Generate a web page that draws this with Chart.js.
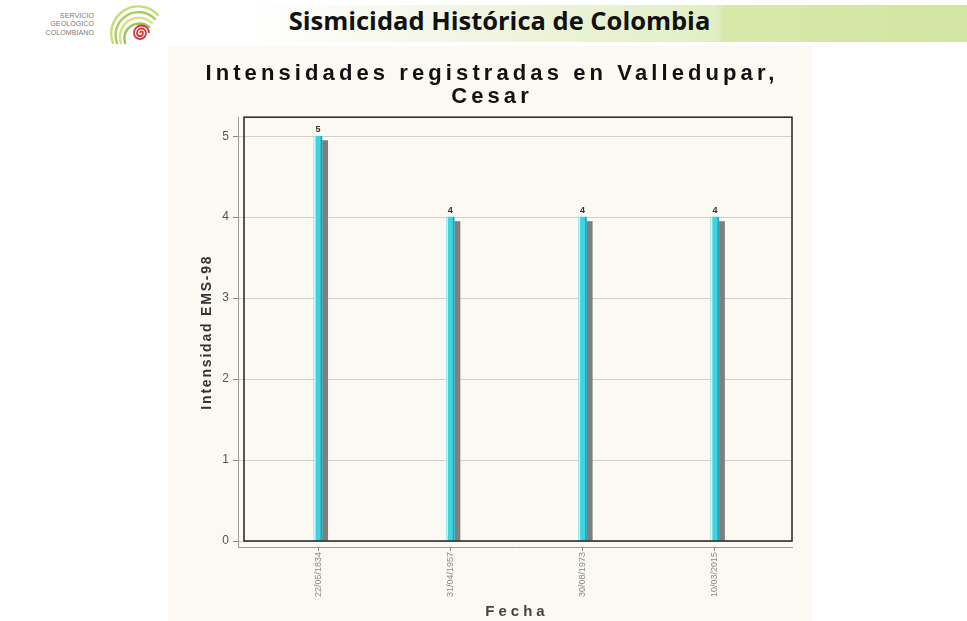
<!DOCTYPE html>
<html>
<head>
<meta charset="utf-8">
<title>Sismicidad Histórica de Colombia</title>
<script src="https://cdn.jsdelivr.net/npm/chart.js@4.4.1/dist/chart.umd.min.js"></script>
<style>
  html, body { margin: 0; padding: 0; background: #fff; }
  #page { position: relative; width: 967px; height: 621px; overflow: hidden; }
  #banda { position: absolute; left: 0; top: 5px; width: 967px; height: 37px;
    background: linear-gradient(to right, #fff 0px, #fff 250px, #eef4dc 520px, #e3eec4 715px, #d7e8a9 725px, #d3e5a2 967px); }
  #panel { position: absolute; left: 168px; top: 46px; width: 644px; height: 575px; background: #fbf9f2; }
  #cabecera { position: absolute; left: 0; top: 3px; width: 999px; text-align: center;
    font: bold 25.5px "Open Sans", Lato, sans-serif; color: #111; line-height: 34px; }
  #logo-txt { position: absolute; left: 18px; top: 12px; width: 76px; text-align: right;
    font: 7px "Liberation Sans", Arial, sans-serif; color: #7a7a7a; line-height: 8.4px; letter-spacing: 0.1px; }
  #logo { position: absolute; left: 96px; top: 3px; }
  canvas { position: absolute; left: 0; top: 0; }
</style>
</head>
<body>
<div id="page">
  <div id="banda"></div>
  <div id="panel"></div>
  <div id="cabecera">Sismicidad Histórica de Colombia</div>
  <div id="logo-txt">SERVICIO<br>GEOLÓGICO<br>COLOMBIANO</div>
  <svg id="logo" width="64" height="42" viewBox="0 0 64 42">
    <g fill="none" stroke-width="2.4" stroke-linecap="round">
      <path d="M 17 40 A 27 27 0 0 1 62 12" stroke="#c9dc72"/>
      <path d="M 21 40 A 23 23 0 0 1 59 16" stroke="#a8cc5e"/>
      <path d="M 25 40 A 19 19 0 0 1 56 20" stroke="#d8e27e"/>
      <path d="M 29 40 A 15 15 0 0 1 53 24" stroke="#9fc35a"/>
    </g>
    <path d="M 44 30 A 1.5 1.5 0 0 1 47 30 A 3 3 0 0 1 41 30 A 4.5 4.5 0 0 1 50 30 A 6 6 0 0 1 38 30 A 7.5 7.5 0 0 1 53 30"
      fill="none" stroke="#d63a3c" stroke-width="1.8"/>
  </svg>
  <canvas id="grafico" width="967" height="621"></canvas>
</div>

<script>
// ==== Datos ====
const fechas = ['22/05/1834', '31/04/1957', '30/08/1973', '10/03/2015'];
const intensidades = [5, 4, 4, 4];
const marcasY = [0, 1, 2, 3, 4, 5];

const fuente = '"Liberation Sans", Arial, sans-serif';

// espaciado de letras en los titulos (canvas letterSpacing)
const espaciado = {
  id: 'espaciado',
  afterLayout(chart) {
    const envolver = (obj, fn, sp, dx) => {
      if (!obj || obj['_sp_' + fn]) return;
      const orig = obj[fn].bind(obj);
      obj[fn] = function (...a) {
        const c = chart.ctx;
        c.save(); c.letterSpacing = sp; c.translate(dx, 0); orig(...a); c.restore();
      };
      obj['_sp_' + fn] = true;
    };
    envolver(chart.titleBlock, 'draw', '4.1px', 7);
    envolver(chart.scales.x, 'drawTitle', '4px', 2);
    envolver(chart.scales.y, 'drawTitle', '1.8px', 0);
  }
};

// sombra gris a la derecha de cada barra
const sombra = {
  id: 'sombra',
  beforeDatasetsDraw(chart) {
    const ctx = chart.ctx;
    const meta = chart.getDatasetMeta(0);
    ctx.save();
    ctx.fillStyle = '#7f7f7f';
    meta.data.forEach(el => {
      const {x, y, base, width} = el.getProps(['x', 'y', 'base', 'width'], true);
      ctx.fillRect(x + width / 2, y + 4, 6, base - y - 4);
    });
    ctx.restore();
  },
  afterDatasetsDraw(chart) {
    const ctx = chart.ctx;
    const meta = chart.getDatasetMeta(0);
    const vals = chart.data.datasets[0].data;
    ctx.save();
    meta.data.forEach((el, i) => {
      const {x, y, base, width} = el.getProps(['x', 'y', 'base', 'width'], true);
      ctx.fillStyle = 'rgba(235,255,255,0.85)';
      ctx.fillRect(x - width / 2, y, 1.5, base - y);
      ctx.fillStyle = '#2a9fb0';
      ctx.fillRect(x + width / 2 - 1.5, y, 1.5, base - y);
      ctx.fillStyle = '#333';
      ctx.font = 'bold 9px ' + fuente;
      ctx.textAlign = 'center';
      ctx.textBaseline = 'bottom';
      ctx.fillText(String(vals[i].y), x, y - 2);
    });
    ctx.restore();
  }
};

// marco negro del area de trazado, separado de los ejes
const marco = {
  id: 'marco',
  afterDatasetsDraw(chart) {
    const {ctx, chartArea, scales} = chart;
    const izq = chartArea.left + 6;
    const abajo = scales.y.getPixelForValue(0);
    ctx.save();
    ctx.strokeStyle = '#222';
    ctx.lineWidth = 1.5;
    ctx.strokeRect(izq, chartArea.top, chartArea.right - izq, abajo - chartArea.top);
    ctx.restore();
  }
};

new Chart(document.getElementById('grafico'), {
  type: 'bar',
  data: {
    datasets: [{
      data: intensidades.map((v, i) => ({x: i, y: v})),
      backgroundColor: '#3fd3df',
      barThickness: 8,
      borderWidth: 0
    }]
  },
  options: {
    responsive: false,
    animation: false,
    events: [],
    layout: { padding: { left: 178, right: 175, top: 52, bottom: 0 } },
    plugins: {
      legend: { display: false },
      tooltip: { enabled: false },
      title: {
        display: true,
        text: ['Intensidades registradas en Valledupar,', 'Cesar'],
        color: '#111',
        font: { family: fuente, size: 22, weight: 'bold', lineHeight: 1.05 },
        padding: { top: 10, bottom: 9 }
      }
    },
    scales: {
      x: {
        type: 'linear',
        offset: false,
        min: -0.605,
        max: 3.583,
        afterBuildTicks: s => { s.ticks = fechas.map((f, i) => ({value: i})); },
        afterFit: s => { s.height = 74; },
        ticks: {
          callback: v => fechas[v],
          minRotation: 90, maxRotation: 90,
          color: '#8a8a8a',
          font: { family: fuente, size: 9 },
          padding: 1
        },
        grid: { offset: false, drawOnChartArea: false, drawTicks: true, tickLength: 4, tickColor: '#888' },
        border: { display: true, color: '#9a9a9a' },
        title: {
          display: true, text: 'Fecha', color: '#444',
          font: { family: fuente, size: 15, weight: 'bold' },
          padding: 0
        }
      },
      y: {
        min: -0.074,
        max: 5.235,
        afterBuildTicks: s => { s.ticks = marcasY.map(v => ({value: v})); },
        afterFit: s => { s.width = 60; },
        ticks: { color: '#555', font: { family: fuente, size: 12 }, padding: 4 },
        grid: { color: '#cfcfcf', tickLength: 5, tickColor: '#888' },
        border: { display: true, color: '#9a9a9a' },
        title: {
          display: true, text: 'Intensidad EMS-98', color: '#333',
          font: { family: fuente, size: 14, weight: 'bold' },
          padding: { top: 21, bottom: 0 }
        }
      }
    }
  },
  plugins: [espaciado, sombra, marco]
});
</script>
</body>
</html>
